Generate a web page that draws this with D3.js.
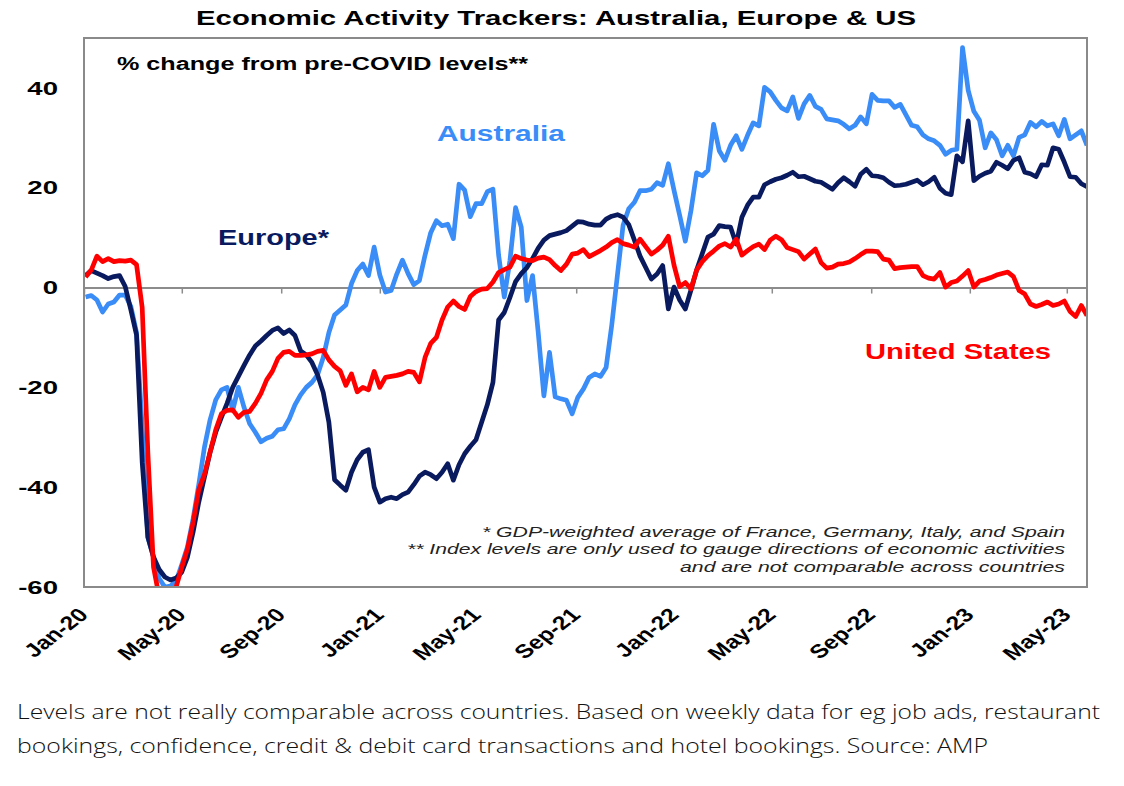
<!DOCTYPE html>
<html>
<head>
<meta charset="utf-8">
<script src="https://cdn.jsdelivr.net/npm/d3@7"></script>
<style>
  body { margin: 0; background: #fff; }
  svg text { font-family: "Liberation Sans", Arial, sans-serif; }
  .caption { font-family: "Open Sans", sans-serif; font-weight: 300; }
</style>
</head>
<body>
<svg id="chart" width="1124" height="786"></svg>
<script>
// weekly readings, first week ending 3 Jan 2020
const firstWeek = '2020-01-03';

const australia = [
  -1.9, -1.6, -2.5, -4.9, -3.3, -2.9, -1.5, -1.5, -3.8, -9,
  -28, -50, -54, -58.3, -60, -59.8, -58.8, -55.5, -52, -46.3,
  -39.5, -32, -26.5, -22.5, -20.5, -20, -24.6, -20, -24, -27.3,
  -29, -30.9, -30.2, -29.8, -28.5, -28.3, -26.3, -23.5, -21.5, -20,
  -19, -17.5, -14, -9, -5.5, -4.5, -3.5, 0.8, 3.4, 4.7,
  2.4, 8.1, 2.5, -0.9, -0.6, 2.7, 5.5, 2.8, 0.6, 1.4,
  6.5, 11, 13.4, 12.4, 12.7, 9.8, 20.7, 19.5, 14.2, 16.8,
  16.8, 19.2, 19.7, 6.5, -1.9, 5.4, 16, 12.1, -2.6, 2.4,
  -9, -21.7, -13, -21.9, -22.3, -22.6, -25.3, -22, -20.3, -18,
  -17.3, -17.8, -16, -7.5, 2.5, 12.5, 15.8, 17.1, 19.4, 19.4,
  19.7, 21, 20.5, 24.8, 19.5, 14.5, 9.3, 15.4, 23, 22.4,
  23.5, 32.7, 27.4, 25.5, 28.5, 30.4, 27.7, 30.5, 33, 32.4,
  40.1, 39.2, 37.5, 36, 35.4, 38.2, 33.9, 36.8, 38.5, 36.3,
  35.7, 33.8, 33.6, 33.4, 32.7, 31.8, 32.5, 34.2, 32.8, 38.7,
  37.5, 37.4, 37.4, 36.1, 36.7, 34.6, 32.5, 32.2, 30.6, 29.8,
  29.4, 28.5, 26.7, 27.5, 27.7, 48.1, 39.5, 35.3, 33.5, 28,
  31, 29.6, 26.4, 28.5, 26.4, 30.1, 30.6, 33.1, 32.2, 33.3,
  32.4, 32.8, 30.4, 33.7, 29.8, 30.6, 31.4, 28.5
];

const europe = [
  2.4, 3.4, 2.9, 2.4, 1.8, 2.2, 2.4, 0.2, -4.5, -9.5,
  -35, -50, -54, -56.5, -58, -58.6, -58.2, -57, -54, -49,
  -43, -38, -33, -29, -26, -23.2, -20, -17.8, -15.6, -13.5,
  -11.7, -10.7, -9.6, -8.6, -8.1, -9.2, -8.5, -9.6, -12.7, -13.5,
  -15, -17.5, -21, -27, -38.5, -39.6, -40.6, -37, -34.5, -33,
  -32.5, -40, -43, -42.3, -42, -42.3, -41.5, -41, -39.5, -37.8,
  -37, -37.5, -38.3, -37, -35.3, -38.6, -35.5, -33.3, -31.8, -30.5,
  -27, -23.5, -19, -6.5, -5, -2, 1.2, 2.8, 4, 5.8,
  7.9, 9.5, 10.4, 10.7, 11.0, 11.4, 12.3, 13.2, 13.1, 12.7,
  12.5, 12.5, 13.7, 14.3, 14.6, 14.1, 12.6, 9.5, 6.3, 4.0,
  1.7, 2.7, 4.4, -4.3, 0.1, -2.5, -4.3, -0.5, 3.5, 6.8,
  10.1, 10.7, 12.4, 12.2, 12.1, 8.7, 14.1, 16.5, 18.1, 18.1,
  20.6, 21.2, 21.7, 22.0, 22.5, 23.1, 22.2, 22.3, 21.8, 21.3,
  21.1, 20.4, 19.7, 21.0, 22.0, 21.2, 20.3, 22.7, 23.7, 22.4,
  22.3, 22.0, 21.1, 20.4, 20.5, 20.7, 21.1, 21.5, 20.6, 21.2,
  22.1, 19.9, 18.9, 18.6, 26.4, 25.2, 33.4, 21.4, 22.3, 22.9,
  23.3, 25.1, 24.5, 23.8, 25.5, 26.0, 23.1, 22.8, 22.2, 24.6,
  24.5, 28.0, 27.7, 25.1, 22.2, 22.1, 20.8, 20.2
];

const unitedStates = [
  2.1, 3.5, 6.3, 5.2, 5.8, 5.2, 5.4, 5.3, 5.5, 4.6,
  -4, -33, -56, -62, -63, -62.5, -60, -56, -52.4, -47,
  -40.5, -37.5, -33, -28.5, -25.3, -24.6, -24.5, -26, -25, -24.8,
  -23.2, -21.2, -18.5, -16.8, -14.2, -13, -12.8, -13.6, -13.6, -13.5,
  -13.3, -12.8, -12.6, -14.5, -15.8, -16.7, -19.6, -17.3, -20.9, -20,
  -20.5, -16.8, -20, -18, -17.8, -17.6, -17.3, -16.8, -17, -18.9,
  -14, -11.2, -10, -6.5, -3.9, -2.7, -3.8, -4.4, -1.8, -0.8,
  -0.3, -0.2, 1.1, 3.0, 3.6, 4.1, 6.3, 5.8, 5.5, 5.4,
  5.9, 6.1, 5.6, 4.4, 3.4, 4.7, 6.7, 6.9, 7.6, 6.2,
  6.8, 7.4, 8.1, 9.0, 9.6, 8.8, 8.5, 8.1, 9.7, 8.2,
  6.7, 7.5, 8.5, 10.3, 4.5, 0.2, 1.0, -0.3, 3.5, 5.2,
  6.4, 7.3, 8.3, 8.8, 8.1, 9.7, 6.5, 7.4, 8.2, 8.7,
  7.6, 9.5, 10.3, 9.6, 8.0, 7.6, 7.2, 5.7, 6.7, 7.7,
  5.0, 3.9, 4.1, 4.7, 4.8, 5.1, 5.8, 6.6, 7.3, 7.3,
  7.2, 5.7, 5.5, 3.8, 4.0, 4.1, 4.2, 4.2, 2.4, 1.9,
  1.7, 3.0, 0.1, 1.0, 1.3, 2.3, 3.4, 0.1, 1.3, 1.6,
  2.0, 2.5, 2.8, 3.1, 2.2, -0.6, -1.3, -3.3, -3.8, -3.4,
  -2.9, -3.6, -3.3, -2.7, -4.8, -5.8, -3.6, -5.6
];

const yTicks = [-60, -40, -20, 0, 20, 40];
const xStart = '2020-01-01';
const xEnd = '2023-05-26';

const series = [
  { name: 'Australia', values: australia, color: '#3a8cf7' },
  { name: 'Europe*', values: europe, color: '#0a1a5e' },
  { name: 'United States', values: unitedStates, color: '#ff0000' }
];

const parse = d3.timeParse('%Y-%m-%d');
const week0 = parse(firstWeek);
const weekDates = d3.range(australia.length).map(i => d3.timeDay.offset(week0, 7 * i));

const svg = d3.select('#chart');
const margin = { top: 38, left: 84 };
const width = 1003, height = 549;

const g = svg.append('g').attr('transform', `translate(${margin.left},${margin.top})`);

const x = d3.scaleTime().domain([parse(xStart), parse(xEnd)]).range([0, width]);
const y = d3.scaleLinear().domain([-60, 50]).range([height, 0]);

// stretch text horizontally like the original picture
function stretch(sel, ratio) {
  sel.each(function () {
    const len = this.getComputedTextLength();
    d3.select(this).attr('textLength', len * ratio).attr('lengthAdjust', 'spacingAndGlyphs');
  });
}

// zero line with small ticks
const zeroAxis = g.append('g')
  .attr('transform', `translate(0,${y(0)})`)
  .call(d3.axisBottom(x).ticks(d3.timeMonth.every(4)).tickSize(6).tickSizeOuter(0).tickFormat(''));
zeroAxis.select('.domain').attr('stroke', '#8c8c8c').attr('stroke-width', 2);
zeroAxis.selectAll('.tick line').attr('stroke', '#8c8c8c').attr('stroke-width', 1.5);

// lines
g.append('clipPath').attr('id', 'plot-clip')
  .append('rect').attr('width', width).attr('height', height);

const line = d3.line()
  .x((d, i) => x(weekDates[i]))
  .y(d => y(d));

g.append('g').attr('clip-path', 'url(#plot-clip)')
  .selectAll('path')
  .data(series)
  .join('path')
  .attr('d', d => line(d.values))
  .attr('fill', 'none')
  .attr('stroke', d => d.color)
  .attr('stroke-width', 4.7)
  .attr('stroke-linejoin', 'round');

// frame
g.append('rect')
  .attr('width', width).attr('height', height)
  .attr('fill', 'none').attr('stroke', '#8a8a8a').attr('stroke-width', 2);

// y axis
const yAxis = g.append('g')
  .call(d3.axisLeft(y).tickValues(yTicks).tickSize(0).tickPadding(26).tickFormat(d => String(d)));
yAxis.select('.domain').remove();
yAxis.selectAll('text')
  .attr('font-size', 19).attr('font-weight', 'bold').attr('fill', '#000')
  .attr('font-family', '"Liberation Sans", Arial, sans-serif');
stretch(yAxis.selectAll('text'), 1.45);

// x axis labels
const xAxis = g.append('g')
  .attr('transform', `translate(0,${height})`)
  .call(d3.axisBottom(x).ticks(d3.timeMonth.every(4)).tickSize(0).tickFormat(d3.timeFormat('%b-%y')));
xAxis.select('.domain').remove();
xAxis.selectAll('text')
  .attr('y', 0).attr('dy', 0)
  .attr('text-anchor', 'end')
  .attr('transform', 'translate(5,29) scale(1.3,1) rotate(-45)')
  .attr('font-size', 19).attr('font-weight', 'bold').attr('fill', '#000')
  .attr('font-family', '"Liberation Sans", Arial, sans-serif');

// titles and labels
svg.append('text')
  .attr('x', 556).attr('y', 25).attr('text-anchor', 'middle')
  .attr('font-size', 21).attr('font-weight', 'bold')
  .attr('textLength', 720).attr('lengthAdjust', 'spacingAndGlyphs')
  .text('Economic Activity Trackers: Australia, Europe & US');

svg.append('text')
  .attr('x', 117).attr('y', 70)
  .attr('font-size', 18).attr('font-weight', 'bold')
  .attr('textLength', 411).attr('lengthAdjust', 'spacingAndGlyphs')
  .text('% change from pre-COVID levels**');

const labels = [
  { text: 'Australia', x: 437, y: 141, len: 128, color: series[0].color },
  { text: 'Europe*', x: 218, y: 245, len: 111, color: series[1].color },
  { text: 'United States', x: 865, y: 359, len: 186, color: series[2].color }
];
svg.selectAll('.series-label')
  .data(labels)
  .join('text')
  .attr('class', 'series-label')
  .attr('x', d => d.x).attr('y', d => d.y)
  .attr('font-size', 22).attr('font-weight', 'bold')
  .attr('fill', d => d.color)
  .attr('textLength', d => d.len).attr('lengthAdjust', 'spacingAndGlyphs')
  .text(d => d.text);

const notes = [
  { text: '* GDP-weighted average of France, Germany, Italy, and Spain', y: 537, len: 583 },
  { text: '** Index levels are only used to gauge  directions of economic activities', y: 554, len: 658 },
  { text: 'and are not comparable across countries', y: 572, len: 385 }
];
svg.selectAll('.note')
  .data(notes)
  .join('text')
  .attr('class', 'note')
  .attr('x', 1065).attr('y', d => d.y)
  .attr('text-anchor', 'end')
  .attr('font-size', 15).attr('font-style', 'italic').attr('fill', '#222')
  .attr('textLength', d => d.len).attr('lengthAdjust', 'spacingAndGlyphs')
  .text(d => d.text);

const captionLines = [
  { text: 'Levels are not really comparable across countries. Based on weekly data for eg job ads, restaurant', y: 719, len: 1083 },
  { text: 'bookings, confidence, credit & debit card transactions and hotel bookings. Source: AMP', y: 753, len: 971 }
];
svg.selectAll('.caption')
  .data(captionLines)
  .join('text')
  .attr('class', 'caption')
  .attr('x', 17).attr('y', d => d.y)
  .attr('font-size', 21).attr('fill', '#111')
  .attr('textLength', d => d.len).attr('lengthAdjust', 'spacingAndGlyphs')
  .text(d => d.text);
</script>
</body>
</html>
